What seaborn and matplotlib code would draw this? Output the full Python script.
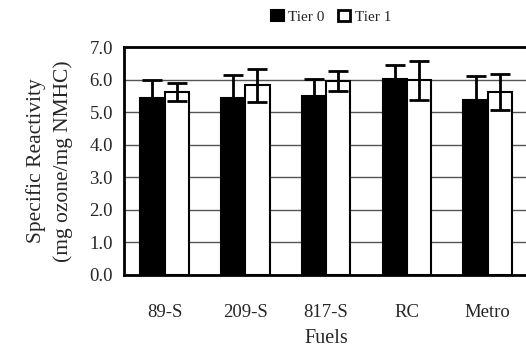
import matplotlib
matplotlib.use("Agg")
import matplotlib.pyplot as plt
import seaborn as sns
import numpy as np
import pandas as pd
from matplotlib.patches import Patch

fuels = ["89-S", "209-S", "817-S", "RC", "Metro"]
tier0 = [5.44, 5.42, 5.50, 6.01, 5.37]
tier0_err = [0.55, 0.73, 0.53, 0.44, 0.73]
tier1 = [5.62, 5.82, 5.95, 5.98, 5.61]
tier1_err = [0.28, 0.50, 0.30, 0.60, 0.55]
yticks = [0.0, 1.0, 2.0, 3.0, 4.0, 5.0, 6.0, 7.0]

sns.set_style("white")
plt.rcParams['font.family'] = ['Liberation Serif', 'DejaVu Serif']

df = pd.DataFrame({
    "Fuel": fuels * 2,
    "Tier": ["Tier 0"] * len(fuels) + ["Tier 1"] * len(fuels),
    "Value": tier0 + tier1,
})

fig = plt.figure(figsize=(5.26, 3.51), dpi=100)
ax = fig.add_axes([0.236, 0.217, 0.768, 0.649])

sns.barplot(data=df, x="Fuel", y="Value", hue="Tier", order=fuels,
            hue_order=["Tier 0", "Tier 1"], palette=["black", "white"],
            width=0.6, edgecolor="black", linewidth=1.5, errorbar=None,
            legend=False, ax=ax, zorder=3)

errs = {"Tier 0": tier0_err, "Tier 1": tier1_err}
vals = {"Tier 0": tier0, "Tier 1": tier1}
for cont, tier in zip(ax.containers, ["Tier 0", "Tier 1"]):
    xs = [p.get_x() + p.get_width() / 2 for p in cont.patches]
    ax.errorbar(xs, vals[tier], yerr=errs[tier], fmt="none", ecolor="black",
                elinewidth=2, capsize=7, capthick=2, zorder=4)

ax.set_ylim(0, 7.0)
ax.set_xlim(-0.5, len(fuels) - 0.5)
ax.set_yticks(yticks)
ax.set_yticklabels([f"{v:.1f}" for v in yticks], fontsize=13.5)
ax.yaxis.grid(True, color="#555555", linewidth=1, zorder=0)
ax.set_axisbelow(True)
ax.tick_params(axis="x", length=0, labelsize=13.5, pad=21)
ax.tick_params(axis="y", length=0, pad=8)
ax.set_xticks(np.arange(len(fuels) - 1) + 0.5, minor=True)
ax.tick_params(axis="x", which="minor", direction="in", length=5, width=1.5, color="black")

ax.set_xlabel("Fuels", fontsize=14.5, labelpad=6)
ax.set_ylabel("Specific Reactivity\n(mg ozone/mg NMHC)", fontsize=15.5, labelpad=12,
              linespacing=1.5)

for side in ["left", "bottom", "top"]:
    ax.spines[side].set_visible(True)
    ax.spines[side].set_color("black")
    ax.spines[side].set_linewidth(2)
ax.spines["right"].set_visible(False)

handles = [Patch(facecolor="black", edgecolor="black", linewidth=1.5, label="Tier 0"),
           Patch(facecolor="white", edgecolor="black", linewidth=2, label="Tier 1")]
fig.legend(handles=handles, loc="center", bbox_to_anchor=(0.63, 0.952), ncol=2,
           frameon=False, fontsize=11, handlelength=0.8, handleheight=0.8,
           handletextpad=0.3, columnspacing=0.9)

fig.savefig("out.png", dpi=100)
